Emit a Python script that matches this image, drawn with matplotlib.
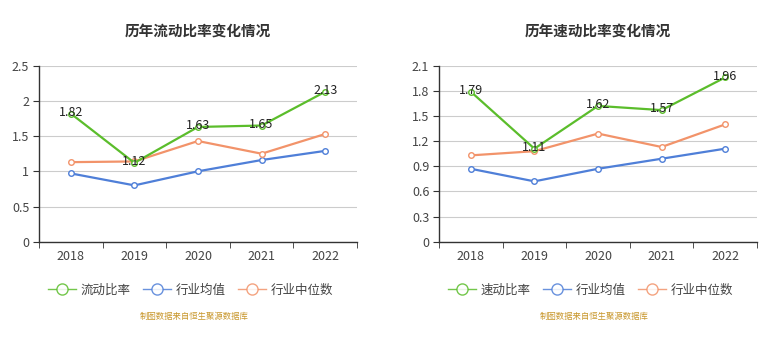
import matplotlib.pyplot as plt
import numpy as np

plt.rcParams['font.family'] = ['Noto Sans CJK SC', 'DejaVu Sans']

years = ['2018', '2019', '2020', '2021', '2022']

# 流动比率
current_ratio = [1.82, 1.12, 1.63, 1.65, 2.13]
current_ind_mean = [0.97, 0.80, 1.00, 1.16, 1.29]
current_ind_median = [1.13, 1.14, 1.43, 1.25, 1.53]

# 速动比率
quick_ratio = [1.79, 1.11, 1.62, 1.57, 1.96]
quick_ind_mean = [0.87, 0.72, 0.87, 0.99, 1.11]
quick_ind_median = [1.03, 1.08, 1.29, 1.13, 1.40]

green = '#5bbd2b'
blue = '#4f7fd8'
orange = '#f2936a'

fig = plt.figure(figsize=(7.83, 3.38), dpi=100)
W, H = 783, 338


def make_panel(left, right, title, name, main, mean, median, yticks):
    ax = fig.add_axes([left / W, 1 - 241.7 / H, (right - left) / W, (241.7 - 65.7) / H])
    x = np.arange(len(years))
    mk = dict(marker='o', markersize=4, markerfacecolor='white', markeredgewidth=1.0)
    l1, = ax.plot(x, main, color=green, lw=1.6, label=name, zorder=4, **mk)
    l2, = ax.plot(x, mean, color=blue, lw=1.6, label='行业均值', zorder=3, **mk)
    l3, = ax.plot(x, median, color=orange, lw=1.6, label='行业中位数', zorder=3, **mk)
    for xi, v in zip(x, main):
        ax.annotate(f'{v:.2f}', (xi, v), xytext=(0, 1), textcoords='offset points',
                    ha='center', va='center', fontsize=9, color='#222', zorder=5)
    ax.set_xlim(-0.5, len(years) - 0.5)
    ax.set_ylim(yticks[0], yticks[-1])
    ax.set_yticks(yticks)
    ax.set_yticklabels([f'{t:g}' for t in yticks])
    ax.set_xticks(x)
    ax.set_xticklabels(years)
    ax.set_xticks(np.arange(-0.5, len(years)), minor=True)
    ax.tick_params(axis='x', which='major', length=0, pad=6, labelsize=9, labelcolor='#444')
    ax.tick_params(axis='x', which='minor', length=4, color='#333')
    ax.tick_params(axis='y', length=4, color='#333', pad=3, labelsize=9, labelcolor='#444')
    ax.grid(axis='y', color='#cccccc', lw=0.8)
    ax.set_axisbelow(True)
    for s in ['top', 'right']:
        ax.spines[s].set_visible(False)
    for s in ['left', 'bottom']:
        ax.spines[s].set_color('#333')
        ax.spines[s].set_linewidth(1.0)
    cx = (left + right) / 2
    fig.text(cx / W, 1 - 31 / H, title, ha='center', va='center',
             fontsize=10.5, fontweight='bold', color='#333')
    leg = ax.legend(handles=[l1, l2, l3], loc='center left', ncol=3, frameon=False,
                    bbox_to_anchor=((left - 2) / W, 1 - 290 / H), bbox_transform=fig.transFigure,
                    fontsize=9, handlelength=2.2, handletextpad=0.4, columnspacing=1.0,
                    labelcolor='#444')
    for h in leg.legend_handles:
        h.set_markersize(8)
        h.set_linewidth(1.0)
        h.set_alpha(0.85)
    fig.text((left + 155) / W, 1 - 316 / H, '制图数据来自恒生聚源数据库', ha='center',
             va='center', fontsize=6, color='#c8962a')


make_panel(39, 357, '历年流动比率变化情况', '流动比率',
           current_ratio, current_ind_mean, current_ind_median,
           [0, 0.5, 1, 1.5, 2, 2.5])
make_panel(439, 757, '历年速动比率变化情况', '速动比率',
           quick_ratio, quick_ind_mean, quick_ind_median,
           [0, 0.3, 0.6, 0.9, 1.2, 1.5, 1.8, 2.1])

fig.savefig('out.png', dpi=100, facecolor='white')
